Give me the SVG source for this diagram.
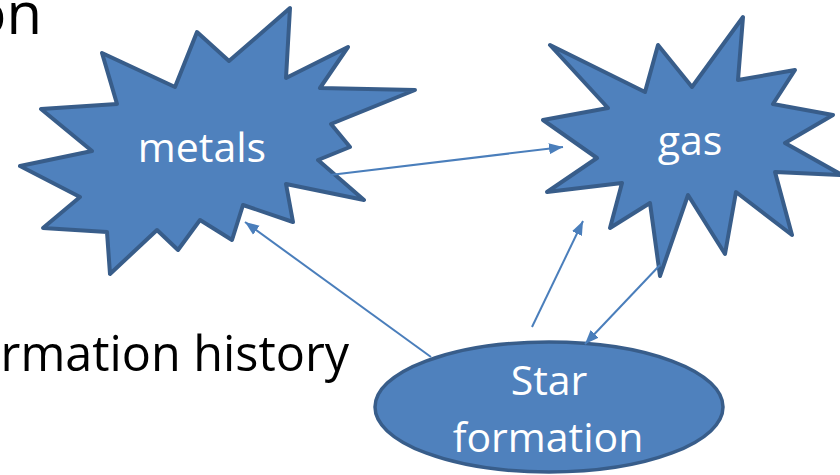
<svg xmlns="http://www.w3.org/2000/svg" width="840" height="475" viewBox="0 0 840 475">
  <style>
    .shape { fill: #4F81BD; stroke: #385D8A; stroke-width: 4; stroke-linejoin: round; }
    .ell { fill: #4F81BD; stroke: #385D8A; stroke-width: 3.5; }
    .label { font-family: "Open Sans", "Noto Sans", sans-serif; font-size: 41px; fill: #FFFFFF; text-anchor: middle; }
    .body { font-family: "Open Sans", "Noto Sans", sans-serif; fill: #000000; }
    .conn { stroke: #4A7EBB; stroke-width: 2; fill: none; marker-end: url(#arrow); }
  </style>
  <defs>
    <marker id="arrow" markerUnits="userSpaceOnUse" markerWidth="15" markerHeight="12" refX="14" refY="6" orient="auto">
      <path d="M0,0.5 L14,6 L0,11.5 z" fill="#4A7EBB"/>
    </marker>
  </defs>
  <rect width="840" height="475" fill="#FFFFFF"/>

  <text class="body" x="42" y="34" font-size="58" text-anchor="end">on</text>
  <text class="body" x="349" y="371" font-size="48.5" text-anchor="end">rmation history</text>

  <g id="metals">
    <path class="shape" d="M290,8 L286,78 L348,47 L320,88 L415,90 L331,124 L350,147 L318,160 L364,200 L286,184 L293,222 L243,205 L232,240 L200,220 L178,250 L157,230 L110,274 L107,232 L43,228 L80,197 L20,166 L92,151 L41,109 L117,104 L102,53 L175,87 L197,32 L229,61 Z"/>
    <text class="label" x="202" y="162">metals</text>
  </g>

  <g id="gas">
    <path class="shape" d="M743,17 L738,80 L795,70 L773,104 L833,115 L785,143 L842,175 L775,172 L792,235 L736,192 L725,254 L688,195 L660,276 L650,203 L610,228 L622,183 L547,192 L597,158 L543,120 L608,108 L550,45 L645,92 L658,45 L692,87 Z"/>
    <text class="label" x="690" y="155">gas</text>
  </g>

  <g id="star-formation">
    <ellipse class="ell" cx="549" cy="407" rx="174" ry="65"/>
    <text class="label" x="549" y="395">Star</text>
    <text class="label" x="548" y="452">formation</text>
  </g>

  <g id="connectors">
    <line class="conn" x1="330" y1="175" x2="563" y2="147"/>
    <line class="conn" x1="431" y1="357" x2="245" y2="222"/>
    <line class="conn" x1="532" y1="327" x2="583" y2="221"/>
    <line class="conn" x1="660" y1="265" x2="585" y2="344"/>
  </g>
</svg>
